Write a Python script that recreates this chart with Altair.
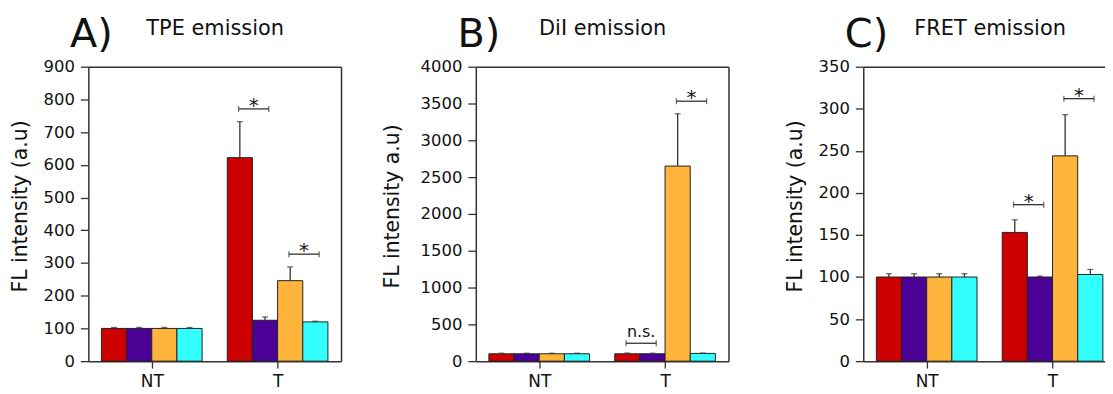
import altair as alt
import pandas as pd

groups = ["NT", "T"]
series = ["s1", "s2", "s3", "s4"]
colors = ["#CC0000", "#4B0096", "#FFB43C", "#33FFFF"]

# Panel A: TPE emission
a_nt = [100, 100, 100, 100]
a_nt_err = [3, 3, 3, 3]
a_t = [622, 125, 246, 120]
a_t_err = [110, 10, 42, 2]
a_br_from = ["s1", "s3"]
a_br_to = ["s2", "s4"]
a_br_y = [771, 327]
a_br_lbl = ["*", "*"]

# Panel B: DiI emission
b_nt = [100, 100, 100, 100]
b_nt_err = [8, 8, 8, 8]
b_t = [100, 100, 2650, 105]
b_t_err = [10, 8, 710, 5]
b_br_from = ["s1", "s3"]
b_br_to = ["s2", "s4"]
b_br_y = [243, 3531]
b_br_lbl = ["n.s.", "*"]

# Panel C: FRET emission
c_nt = [100, 100, 100, 100]
c_nt_err = [4, 4, 4, 4]
c_t = [153, 100, 244, 103]
c_t_err = [15, 1, 49, 6]
c_br_from = ["s1", "s3"]
c_br_to = ["s2", "s4"]
c_br_y = [186, 312]
c_br_lbl = ["*", "*"]

FONT = "DejaVu Sans"
INK = "#333333"
PX_PER_UNIT = 126.5
PLOT_H = 296


def panel(letter, ttl, ytitle, nt, nt_err, t, t_err, ymax, ystep,
          br_from, br_to, br_y, br_lbl, width, ytitle_x, right_border):
    rows = []
    for g, (vals, errs) in enumerate([(nt, nt_err), (t, t_err)]):
        for i, s in enumerate(series):
            x0 = g - 0.4 + 0.2 * i
            rows.append(dict(group=groups[g], series=s, x0=x0, x1=x0 + 0.2,
                             xc=x0 + 0.1, v=vals[i], hi=vals[i] + errs[i]))
    df = pd.DataFrame(rows)

    brows = []
    for f, to, yv, lb in zip(br_from, br_to, br_y, br_lbl):
        i, j = series.index(f), series.index(to)
        a = 1 - 0.3 + 0.2 * i - 0.01
        b = 1 - 0.3 + 0.2 * j + 0.03
        brows.append(dict(bx1=a, bx2=b, bxc=(a + b) / 2, by=yv, lbl=lb))
    bdf = pd.DataFrame(brows)

    xmin = -0.504
    xmax = xmin + width / PX_PER_UNIT
    xs = alt.Scale(domain=[xmin, xmax], nice=False, zero=False)
    ys = alt.Scale(domain=[0, ymax], nice=False, zero=True)
    lab_expr = f"datum.value == 0 ? '{groups[0]}' : '{groups[1]}'"

    bars = alt.Chart(df).mark_bar(stroke="#222222", strokeWidth=1).encode(
        x=alt.X("x0:Q", scale=xs,
                axis=alt.Axis(orient="bottom", values=[0, 1], labelExpr=lab_expr,
                              title=None, tickSize=7, labelPadding=5,
                              labelFontSize=17)),
        x2="x1:Q",
        y=alt.Y("v:Q", scale=ys,
                axis=alt.Axis(orient="left", values=list(range(0, ymax + 1, ystep)),
                              format="d", title=ytitle, titleX=ytitle_x, titleY=140,
                              titleAngle=270, titleAlign="center",
                              titleBaseline="middle", tickSize=8, labelPadding=6,
                              labelFontSize=16.5, titleFontSize=20.5)),
        y2=alt.datum(0),
        color=alt.Color("series:N", scale=alt.Scale(domain=series, range=colors),
                        legend=None),
    )

    err = alt.Chart(df).mark_rule(color=INK, strokeWidth=1.3).encode(
        x=alt.X("xc:Q", scale=xs,
                axis=alt.Axis(orient="top", labels=False, ticks=False, domain=True,
                              title=ttl, titleX=127, titleY=-32, titleAlign="center",
                              titleBaseline="alphabetic", titleFontSize=21)),
        y=alt.Y("v:Q", scale=ys,
                axis=alt.Axis(orient="right", labels=False, ticks=False,
                              domain=right_border, title=letter,
                              titleX=-19 - width, titleY=-20, titleAngle=0,
                              titleAlign="left", titleBaseline="alphabetic",
                              titleFontSize=40)),
        y2="hi:Q",
    )

    caps = alt.Chart(df).mark_tick(orient="horizontal", size=6, thickness=1.3,
                                   color=INK).encode(
        x=alt.X("xc:Q", scale=xs, axis=None),
        y=alt.Y("hi:Q", scale=ys, axis=None),
    )

    brule = alt.Chart(bdf).mark_rule(color=INK, strokeWidth=1.3).encode(
        x=alt.X("bx1:Q", scale=xs, axis=None),
        x2="bx2:Q",
        y=alt.Y("by:Q", scale=ys, axis=None),
    )

    bends = alt.Chart(bdf).transform_fold(["bx1", "bx2"], as_=["end", "bx"]).mark_tick(
        orient="vertical", size=6, thickness=1.3, color=INK).encode(
        x=alt.X("bx:Q", scale=xs, axis=None),
        y=alt.Y("by:Q", scale=ys, axis=None),
    )

    stars = alt.Chart(bdf).transform_filter(alt.datum.lbl == "*").mark_text(
        font=FONT, fontSize=20, dy=3, baseline="alphabetic", color="#111111").encode(
        x=alt.X("bxc:Q", scale=xs, axis=None),
        y=alt.Y("by:Q", scale=ys, axis=None),
        text="lbl:N",
    )

    ns = alt.Chart(bdf).transform_filter(alt.datum.lbl != "*").mark_text(
        font=FONT, fontSize=16, dy=-6, baseline="alphabetic", color="#111111").encode(
        x=alt.X("bxc:Q", scale=xs, axis=None),
        y=alt.Y("by:Q", scale=ys, axis=None),
        text="lbl:N",
    )

    return alt.layer(bars, err, caps, brule, bends, stars, ns).properties(
        width=width, height=PLOT_H)


pA = panel("A)", "TPE emission", "FL intensity (a.u)", a_nt, a_nt_err, a_t, a_t_err,
           900, 100, a_br_from, a_br_to, a_br_y, a_br_lbl, 254, -68, True)
pB = panel("B)", "DiI emission", "FL intensity a.u)", b_nt, b_nt_err, b_t, b_t_err,
           4000, 500, b_br_from, b_br_to, b_br_y, b_br_lbl, 254, -84, True)
pC = panel("C)", "FRET emission", "FL intensity (a.u)", c_nt, c_nt_err, c_t, c_t_err,
           350, 50, c_br_from, c_br_to, c_br_y, c_br_lbl, 243, -68, False)

chart = alt.hconcat(pA, pB, pC, spacing=135.5, bounds="flush").properties(
    padding={"left": 2.75, "top": 6, "right": 0, "bottom": 0}
).configure_view(strokeWidth=0).configure_axis(
    grid=False, domainColor=INK, domainWidth=1.5, tickColor=INK, tickWidth=1.3,
    labelColor="#111111", titleColor="#111111", labelFont=FONT, titleFont=FONT,
    titleFontWeight="normal"
)

chart.save("out.html", embed_options={"renderer": "svg", "actions": False})
